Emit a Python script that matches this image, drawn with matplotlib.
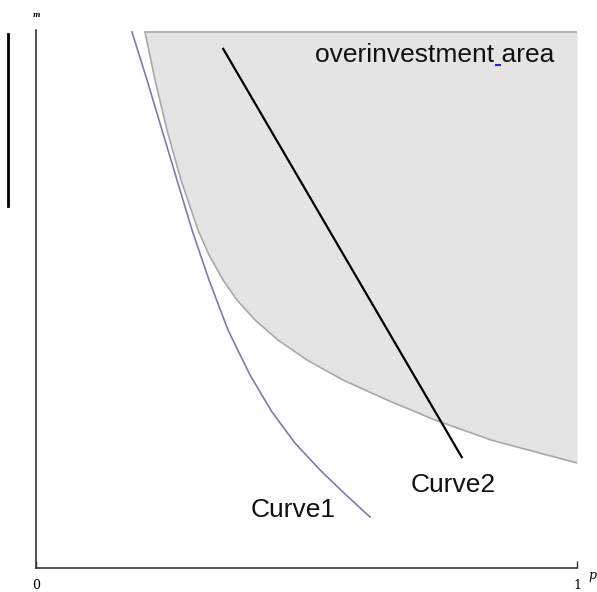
import numpy as np
import matplotlib.pyplot as plt

# curve 1 (blue-grey line)
c1_x = [0.1774, 0.2052, 0.2329, 0.2606, 0.2884, 0.3198, 0.3549, 0.3956, 0.4362, 0.4787, 0.5250, 0.5712, 0.6174]
c1_y = [0.9963, 0.9071, 0.8141, 0.7212, 0.6283, 0.5353, 0.4424, 0.3587, 0.2900, 0.2323, 0.1822, 0.1375, 0.0948]

# boundary of the overinvestment area
b_x = [0.2015, 0.2200, 0.2421, 0.2680, 0.2994, 0.3198, 0.3457, 0.3715, 0.4048, 0.4473,
       0.5009, 0.5675, 0.6488, 0.7375, 0.8410, 1.0]
b_y = [0.9963, 0.9071, 0.8141, 0.7212, 0.6283, 0.5818, 0.5353, 0.4981, 0.4610, 0.4238,
       0.3866, 0.3494, 0.3123, 0.2751, 0.2379, 0.1952]
area_top = 0.9963

# curve 2 (straight black line)
c2_x = [0.346, 0.787]
c2_y = [0.965, 0.206]

fig = plt.figure(figsize=(5.97, 5.92), dpi=100)
ax = fig.add_axes([36/597, 24/592, 541/597, 538/592])
ax.set_xlim(0, 1)
ax.set_ylim(0, 1)

ax.fill_between(b_x, b_y, area_top, color='#e4e4e4', lw=0, zorder=1)
ax.plot(b_x, b_y, color='#a8a8a8', lw=1.2, zorder=2)
ax.plot([b_x[0], 1.0], [area_top, area_top], color='#a8a8a8', lw=1.2, zorder=2)
ax.plot(c1_x, c1_y, color='#7c7cac', lw=1.2, zorder=3)
ax.plot(c2_x, c2_y, color='black', lw=1.6, zorder=3)

for s in ['top', 'right']:
    ax.spines[s].set_visible(False)
for s in ['left', 'bottom']:
    ax.spines[s].set_color('#333333')
    ax.spines[s].set_linewidth(1.2)
ax.set_yticks([])
ax.set_xticks([0, 1])
ax.set_xticklabels(['0', '1'], family='DejaVu Serif', fontsize=9)
ax.tick_params(axis='x', direction='in', length=5, width=1, color='#333333', pad=8)

txt_font = dict(family='Liberation Sans', fontsize=19, color='#111111')
ax.text(0.515, 0.94, 'overinvestment area', ha='left', va='baseline', **txt_font)
# blue underline under the space
probe = ax.text(0.515, 0.94, 'overinvestment', ha='left', va='baseline', alpha=0, **txt_font)
fig.canvas.draw()
bb = probe.get_window_extent()
x0, y0 = ax.transData.transform((0.515, 0.94))
p1 = ax.transData.inverted().transform((bb.x1 + 1, y0 - 3))
p2 = ax.transData.inverted().transform((bb.x1 + 7, y0 - 3))
ax.plot([p1[0], p2[0]], [p1[1], p2[1]], color='#2222dd', lw=1.5, solid_capstyle='butt')

ax.text(0.475, 0.108, 'Curve1', ha='center', va='center', **txt_font)
ax.text(0.771, 0.155, 'Curve2', ha='center', va='center', **txt_font)

# axis names
fig.text(36/597, 1 - 15/592, 'm', ha='center', va='center', family='DejaVu Serif',
         fontsize=5, style='italic', weight='bold')
fig.text(592/597, 1 - 575/592, 'p', ha='center', va='center', family='DejaVu Serif',
         fontsize=9, style='italic')

# stray vertical line at the left
fig.add_artist(plt.Line2D([8/597, 8/597], [1 - 34/592, 1 - 206/592], color='black', lw=2))

fig.savefig('out.png', dpi=100)
